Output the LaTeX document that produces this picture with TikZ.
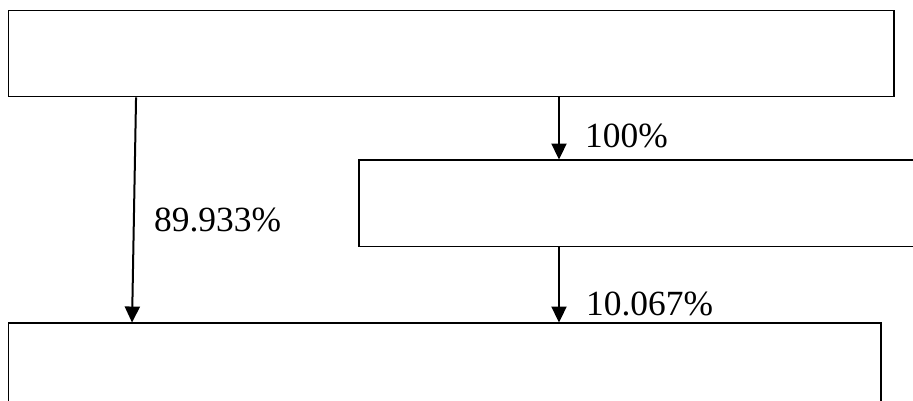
\documentclass[tikz,border=0pt]{standalone}
\usepackage{fontspec}
\setmainfont{Liberation Serif}
\usetikzlibrary{arrows.meta}
\begin{document}
\begin{tikzpicture}[x=1pt,y=-1pt,
  box/.style={draw=black, line width=1.9pt, rectangle, inner sep=0pt, fill=white},
  arr/.style={line width=2pt, -{Triangle[length=16pt,width=15pt]}, shorten >=-0.5pt},
  lbl/.style={anchor=base west, inner sep=0pt, font=\fontsize{35.4}{40}\selectfont}]
\useasboundingbox (0,0) rectangle (913,401);
\clip (0,0) rectangle (913,401);
\fill[white] (0,0) rectangle (913,401);
\node[box, minimum width=885.5pt, minimum height=86pt] (top) at (451.25,53.5) {};
\node[box, minimum width=571pt, minimum height=86.5pt] (mid) at (644.5,203.25) {};
\node[box, minimum width=872.5pt, minimum height=97pt] (bot) at (444.75,371.5) {};
\path (top.south west) ++(128.5,0) coordinate (s1);
\path (bot.north west) ++(124.5,0) coordinate (e1);
\coordinate (c) at (559,0);
\draw[arr] (s1) -- (e1);
\draw[arr] (top.south -| c) -- (mid.north -| c);
\draw[arr] (mid.south -| c) -- (bot.north -| c);
\node[lbl] (l1) at (585,148) {100\%};
\node[lbl] (l2) at (154,231.5) {89.933\%};
\node[lbl] (l3) at (586,315) {10.067\%};
\end{tikzpicture}
\end{document}
